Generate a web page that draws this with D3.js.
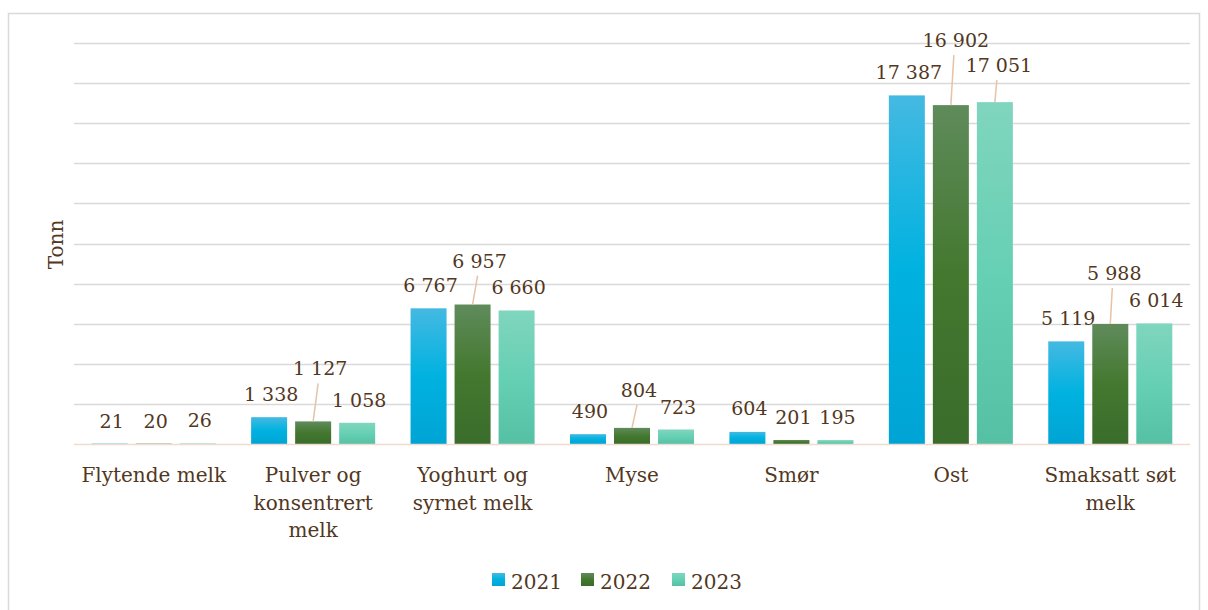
<!DOCTYPE html>
<html><head><meta charset="utf-8">
<script src="https://cdn.jsdelivr.net/npm/d3@7"></script>
<style>
html,body{margin:0;padding:0;background:#fff;}
svg{display:block;}
text{font-family:"DejaVu Serif","Liberation Serif",serif;fill:#523722;}
</style></head>
<body>
<svg id="chart" width="1208" height="610"></svg>
<script>
const categories = ["Flytende melk", "Pulver og konsentrert melk", "Yoghurt og syrnet melk", "Myse", "Smør", "Ost", "Smaksatt søt melk"];
const seriesNames = ["2021", "2022", "2023"];
const values2021 = [21, 1338, 6767, 490, 604, 17387, 5119];
const values2022 = [20, 1127, 6957, 804, 201, 16902, 5988];
const values2023 = [26, 1058, 6660, 723, 195, 17051, 6014];
const yTicks = [0, 2000, 4000, 6000, 8000, 10000, 12000, 14000, 16000, 18000, 20000];
const yTitle = "Tonn";

// layout / style config
const colors = [["#44b9e2", "#00b2e0", "#00a4d4"], ["#5f8b5b", "#44782f", "#3a6c2b"], ["#80d5be", "#66d0b4", "#55c0a4"]];
// manual label displacement (px) for labels moved off their bars, keyed "cat-series"
const labelShift = {"1-1": [5, -30], "2-1": [5, -21], "3-1": [5, -15], "5-1": [3, -42], "5-2": [2, -14], "6-1": [2, -28], "4-0": [0, -1]};

const seriesValues = [values2021, values2022, values2023];
const svg = d3.select("#chart");
const W = 1208, H = 610;
const m = {left: 74, right: 18, top: 43, bottom: 166};

svg.append("rect").attr("x", 8.5).attr("y", 13.5).attr("width", 1191).attr("height", 620)
  .attr("fill", "#fff").attr("stroke", "#d9d9d9").attr("stroke-width", 1.5);

const defs = svg.append("defs");
colors.forEach((c, i) => {
  const g = defs.append("linearGradient").attr("id", "g" + i).attr("x1", 0).attr("y1", 0).attr("x2", 0).attr("y2", 1);
  g.append("stop").attr("offset", "0%").attr("stop-color", c[0]);
  g.append("stop").attr("offset", "50%").attr("stop-color", c[1]);
  g.append("stop").attr("offset", "100%").attr("stop-color", c[2]);
});

const x0 = d3.scaleBand().domain(categories).range([m.left, W - m.right]).paddingInner(0.222).paddingOuter(0.111);
const x1 = d3.scaleBand().domain(seriesNames).range([0, x0.bandwidth()]).paddingInner(0.182);
const y = d3.scaleLinear().domain([0, 20000]).range([H - m.bottom, m.top]);

const locale = d3.formatLocale({decimal: ",", thousands: " ", grouping: [3], currency: ["", " kr"]});
const fmt = locale.format(",d");

// gridlines
svg.append("g").selectAll("line").data(yTicks.filter(t => t > 0)).join("line")
  .attr("x1", m.left).attr("x2", W - m.right)
  .attr("y1", d => Math.round(y(d)) + 0.5).attr("y2", d => Math.round(y(d)) + 0.5)
  .attr("stroke", "#d9d9d9").attr("stroke-width", 1.5);

// bars
const rows = [];
categories.forEach((c, ci) => seriesNames.forEach((s, si) => rows.push({c, ci, s, si, v: seriesValues[si][ci]})));

svg.append("g").selectAll("rect").data(rows).join("rect")
  .attr("x", d => x0(d.c) + x1(d.s)).attr("width", x1.bandwidth())
  .attr("y", d => y(d.v)).attr("height", d => y(0) - y(d.v))
  .attr("fill", d => `url(#g${d.si})`);

// axis line
svg.append("line").attr("x1", m.left).attr("x2", W - m.right)
  .attr("y1", y(0) + 0.5).attr("y2", y(0) + 0.5).attr("stroke", "#f0dccf").attr("stroke-width", 1.5);

// labels
const lab = svg.append("g");
rows.forEach(d => {
  const sh = labelShift[d.ci + "-" + d.si] || [0, 0];
  const cx = x0(d.c) + x1(d.s) + x1.bandwidth() / 2;
  const top = y(d.v);
  const lx = cx + 2 + sh[0], ly = top - 16 + sh[1];
  if (sh[1] < -5) {
    lab.append("line").attr("x1", lx - 2).attr("y1", ly + 8).attr("x2", cx).attr("y2", top)
      .attr("stroke", "#e6c2a6").attr("stroke-width", 1.5);
  }
  lab.append("text").attr("x", lx).attr("y", ly).attr("text-anchor", "middle")
    .attr("font-size", 19).text(fmt(d.v));
});

// category labels with wrapping
const catG = svg.append("g");
const maxW = x0.step() - 8;
categories.forEach(c => {
  const t = catG.append("text").attr("x", x0(c) + x0.bandwidth() / 2).attr("y", 482)
    .attr("text-anchor", "middle").attr("font-size", 20);
  const words = c.split(" ");
  let line = [], lines = [];
  const probe = t.append("tspan");
  words.forEach(w => {
    const test = line.concat([w]).join(" ");
    probe.text(test);
    if (probe.node().getComputedTextLength() > maxW && line.length) {
      lines.push(line.join(" ")); line = [w];
    } else line.push(w);
  });
  lines.push(line.join(" "));
  probe.remove();
  lines.forEach((l, i) => t.append("tspan").attr("x", x0(c) + x0.bandwidth() / 2).attr("dy", i ? 27.5 : 0).text(l));
});

// y title
svg.append("text").attr("transform", `translate(63,${(y(0) + y(20000)) / 2 + 1}) rotate(-90)`)
  .attr("text-anchor", "middle").attr("font-size", 20).text(yTitle);

// legend
const leg = svg.append("g");
const legX = [492, 581, 672];
seriesNames.forEach((s, i) => {
  leg.append("rect").attr("x", legX[i]).attr("y", 573).attr("width", 13).attr("height", 13).attr("fill", `url(#g${i})`);
  leg.append("text").attr("x", legX[i] + 19).attr("y", 589).attr("font-size", 20).text(s);
});
</script>
</body></html>
